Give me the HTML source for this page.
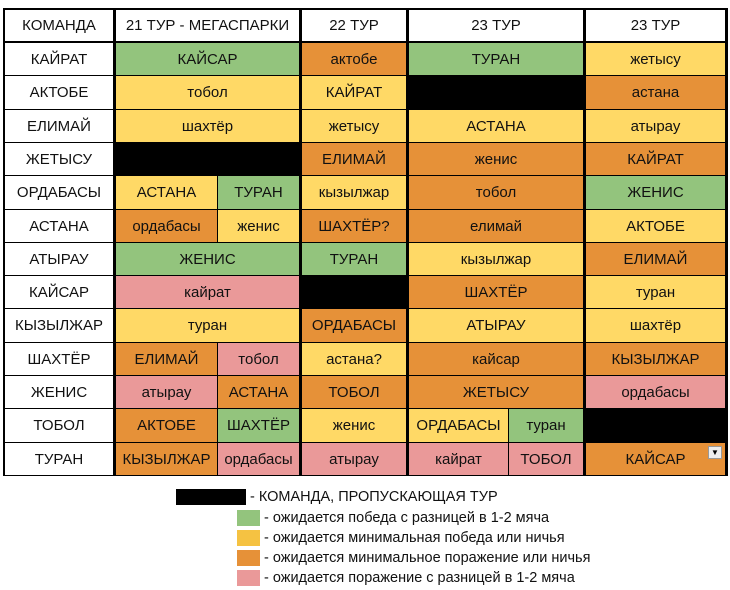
<!DOCTYPE html>
<html><head><meta charset="utf-8"><style>
body{margin:0;width:730px;height:590px;background:#fff;position:relative;overflow:hidden;font-family:"Liberation Sans",sans-serif;color:#111}
#tbl{position:absolute;left:3px;top:8px;width:725px;height:468px;background:#000}
.c{position:absolute;display:flex;align-items:center;justify-content:center;font-size:15px;white-space:nowrap}
.lg{position:absolute;font-size:14.5px;line-height:16px}
.sw{position:absolute;width:23px;height:16px}
</style></head><body>
<div id="tbl"></div>
<div class="sw" style="left:176px;top:489px;width:70px;background:#000"></div>
<div class="lg" style="left:250px;top:489px">- КОМАНДА, ПРОПУСКАЮЩАЯ ТУР</div>
<div class="sw" style="left:237px;top:510px;background:#93c47d"></div>
<div class="lg" style="left:264px;top:510px">- ожидается победа с разницей в 1-2 мяча</div>
<div class="sw" style="left:237px;top:530px;background:#f5c242"></div>
<div class="lg" style="left:264px;top:530px">- ожидается минимальная победа или ничья</div>
<div class="sw" style="left:237px;top:550px;background:#e69138"></div>
<div class="lg" style="left:264px;top:550px">- ожидается минимальное поражение или ничья</div>
<div class="sw" style="left:237px;top:570px;background:#ea9999"></div>
<div class="lg" style="left:264px;top:570px">- ожидается поражение с разницей в 1-2 мяча</div>
<script>
const COL={g:'#93c47d',y:'#ffd966',o:'#e69138',p:'#ea9999',k:'#000',w:'#fff'};
// sub-column x ranges (relative to page)
const X={T:[5,113],A:[116,217],B:[218,299],C:[302,406],D:[409,508],E:[509,583],F:[586,725]};
const SPAN={AB:['A','B'],DE:['D','E']};
const header=[['T','КОМАНДА'],['AB','21 ТУР - МЕГАСПАРКИ'],['C','22 ТУР'],['DE','23 ТУР'],['F','23 ТУР']];
const rows=[
['КАЙРАТ',[['AB','g','КАЙСАР'],['C','o','актобе'],['DE','g','ТУРАН'],['F','y','жетысу']]],
['АКТОБЕ',[['AB','y','тобол'],['C','y','КАЙРАТ'],['DE','k',''],['F','o','астана']]],
['ЕЛИМАЙ',[['AB','y','шахтёр'],['C','y','жетысу'],['DE','y','АСТАНА'],['F','y','атырау']]],
['ЖЕТЫСУ',[['AB','k',''],['C','o','ЕЛИМАЙ'],['DE','o','женис'],['F','o','КАЙРАТ']]],
['ОРДАБАСЫ',[['A','y','АСТАНА'],['B','g','ТУРАН'],['C','y','кызылжар'],['DE','o','тобол'],['F','g','ЖЕНИС']]],
['АСТАНА',[['A','o','ордабасы'],['B','y','женис'],['C','o','ШАХТЁР?'],['DE','o','елимай'],['F','y','АКТОБЕ']]],
['АТЫРАУ',[['AB','g','ЖЕНИС'],['C','g','ТУРАН'],['DE','y','кызылжар'],['F','o','ЕЛИМАЙ']]],
['КАЙСАР',[['AB','p','кайрат'],['C','k',''],['DE','o','ШАХТЁР'],['F','y','туран']]],
['КЫЗЫЛЖАР',[['AB','y','туран'],['C','o','ОРДАБАСЫ'],['DE','y','АТЫРАУ'],['F','y','шахтёр']]],
['ШАХТЁР',[['A','o','ЕЛИМАЙ'],['B','p','тобол'],['C','y','астана?'],['DE','o','кайсар'],['F','o','КЫЗЫЛЖАР']]],
['ЖЕНИС',[['A','p','атырау'],['B','o','АСТАНА'],['C','o','ТОБОЛ'],['DE','o','ЖЕТЫСУ'],['F','p','ордабасы']]],
['ТОБОЛ',[['A','o','АКТОБЕ'],['B','g','ШАХТЁР'],['C','y','женис'],['D','y','ОРДАБАСЫ'],['E','g','туран'],['F','k','']]],
['ТУРАН',[['A','o','КЫЗЫЛЖАР'],['B','p','ордабасы'],['C','p','атырау'],['D','p','кайрат'],['E','p','ТОБОЛ'],['F','o','КАЙСАР']]]
];
const tbl=document.getElementById('tbl');
function xr(k){const s=SPAN[k];return s?[X[s[0]][0],X[s[1]][1]]:X[k];}
function cell(k,y0,y1,bg,txt,name){
  const [a,b]=xr(k);const d=document.createElement('div');d.className='c';
  d.style.left=(a-3)+'px';d.style.width=(b-a)+'px';d.style.top=(y0-8)+'px';d.style.height=(y1-y0)+'px';
  d.style.background=bg;d.textContent=txt;
  
  
  tbl.appendChild(d);return d;
}
header.forEach((h,i)=>cell(h[0],10,41,'#fff',h[1],'header-'+i));
const rh=(475-42)/13;
rows.forEach((r,i)=>{
  const y0=Math.round(42+i*rh)+1,y1=Math.round(42+(i+1)*rh);
  cell('T',y0,y1,'#fff',r[0],'team-'+i);
  r[1].forEach((c,j)=>{const d=cell(c[0],y0,y1,COL[c[1]],c[2],'match-'+i+'-'+j);
    if(i===12&&c[0]==='F'){const dd=document.createElement('div');
      
      
      dd.style.cssText='position:absolute;right:3px;top:3px;width:12px;height:11px;background:#eee;border:1px solid #999;font-size:8px;line-height:11px;text-align:center;color:#000';
      dd.textContent='▼';d.appendChild(dd);}
  });
});
</script>
</body></html>
